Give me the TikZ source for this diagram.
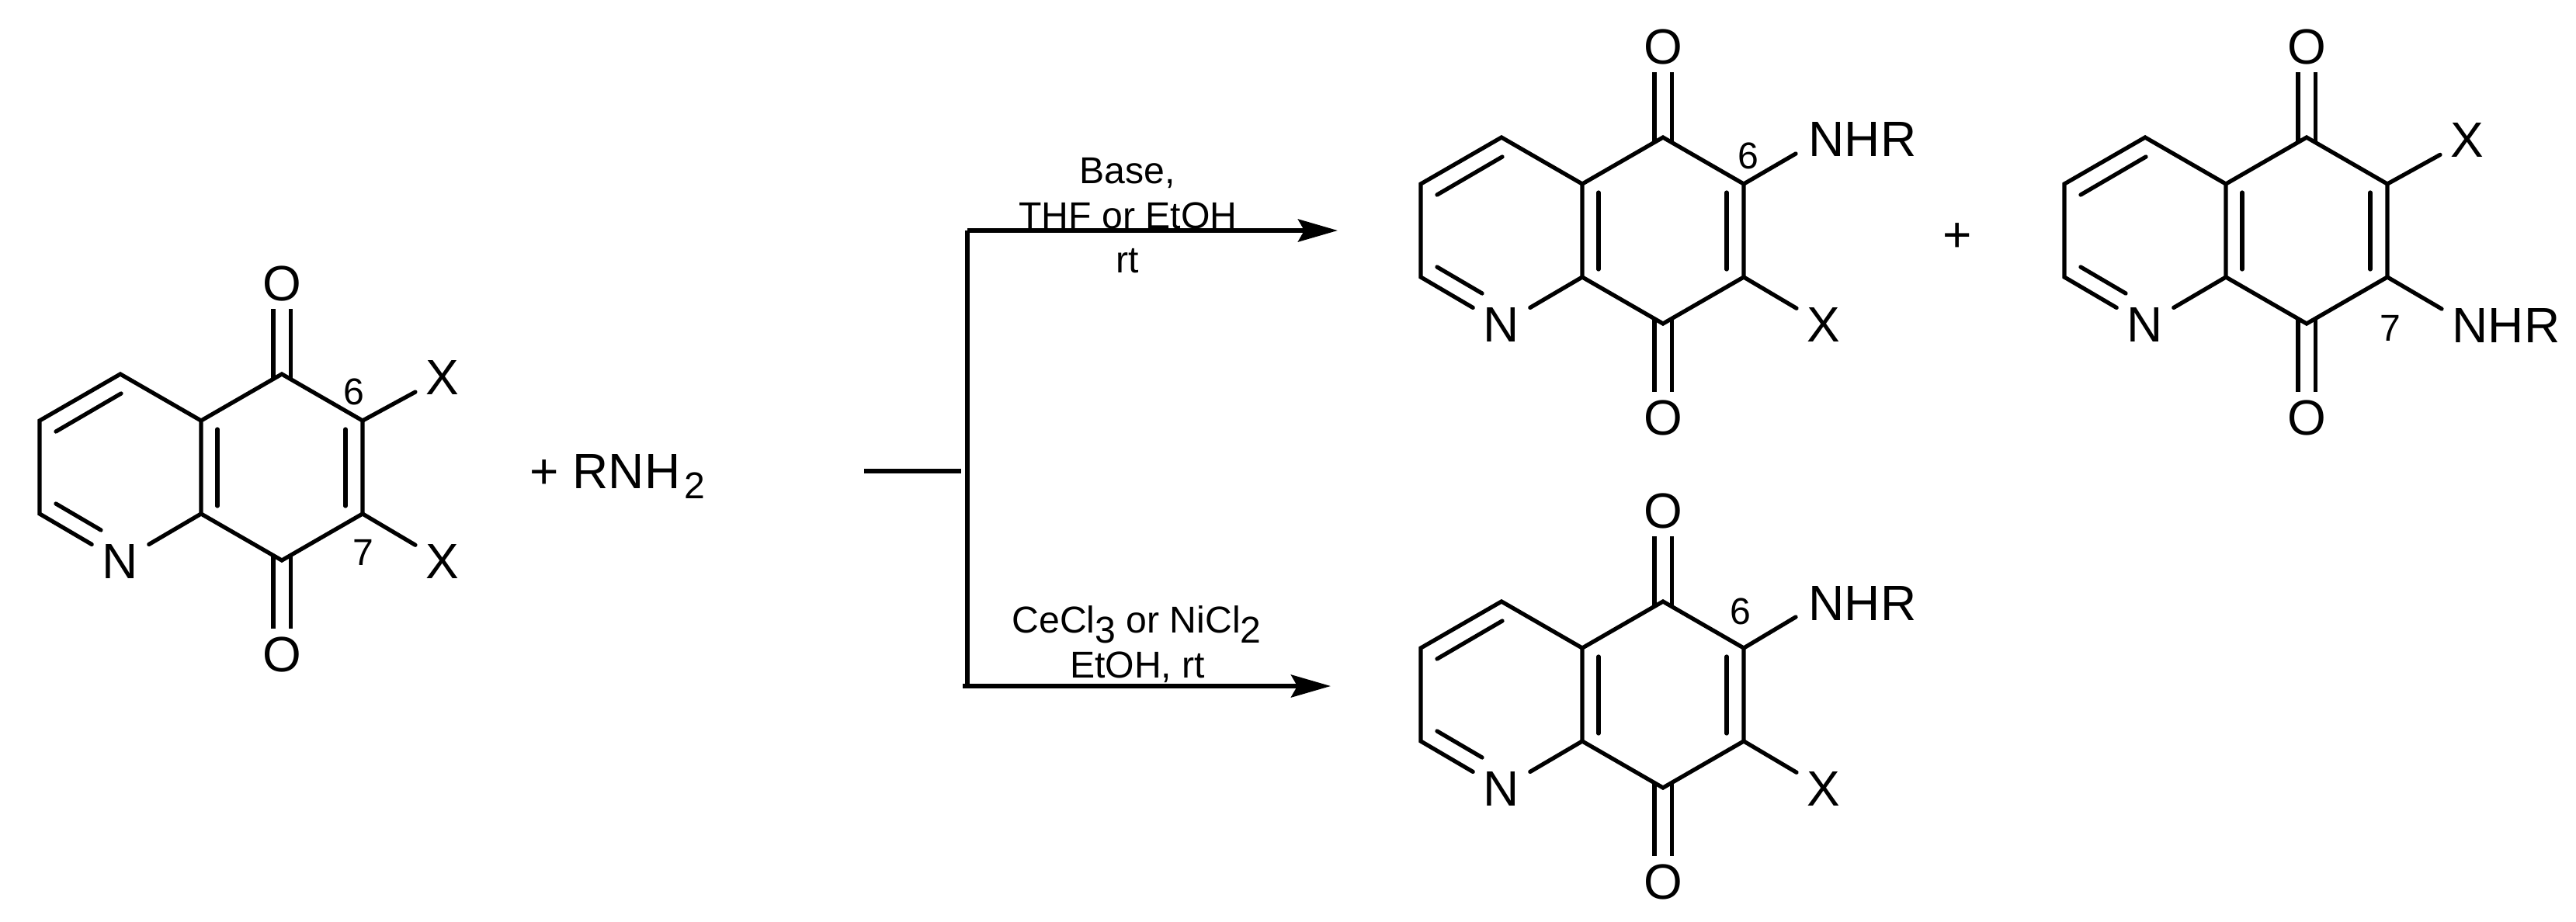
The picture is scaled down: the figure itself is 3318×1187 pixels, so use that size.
\documentclass[tikz,border=0pt]{standalone}
\usepackage{fontspec}
\setmainfont{Liberation Sans}
\usetikzlibrary{arrows.meta}
\newcommand{\bigtext}{\fontsize{18.2}{20}\selectfont}
\newcommand{\smalltext}{\fontsize{13.7}{15}\selectfont}
\newcommand{\lowered}[1]{\raisebox{-3.7pt}{\smalltext #1}}
\tikzset{
  bond/.style={line width=1.5pt, line cap=round},
  carbonyl/.style={line width=1.5pt, double, double distance=1.7mm, shorten <=-0.7mm},
  rxn/.style={line width=1.6pt},
  rxnarrow/.style={line width=1.6pt, -{Stealth[length=5.1mm, width=2.9mm, inset=0.8mm]}},
  atom/.style={font=\bigtext, inner xsep=3.7pt, inner ysep=0pt},
  site/.style={font=\smalltext, inner sep=0pt},
  reagent/.style={font=\smalltext, anchor=base, inner sep=0pt}
}
\newcommand{\quinone}{
  \coordinate (C4a) at (0,0);
  \coordinate (C8a) at (0,120);
  \coordinate (C8) at (104,180);
  \coordinate (C7) at (208,120);
  \coordinate (C6) at (208,0);
  \coordinate (C5) at (104,-60);
  \coordinate (C4) at (-104,-60);
  \coordinate (C3) at (-208,0);
  \coordinate (C2) at (-208,120);
  \node [atom] (N) at (-104,181) {N};
  \node [atom, inner ysep=2.85pt] (O5) at (104,-177) {O};
  \node [atom, inner ysep=2.85pt] (O8) at (104,301) {O};
  \draw [carbonyl] (C5) -- (O5);
  \draw [carbonyl] (C8) -- (O8);
  \draw [bond] (C4a) -- (C5) -- (C6) -- (C7) -- (C8) -- (C8a) -- cycle;
  \draw [bond] (C4a) -- (C4) -- (C3) -- (C2) -- (N) -- (C8a);
  \coordinate (a1) at (21,11);
  \coordinate (a2) at (21,110);
  \coordinate (b1) at (186,11);
  \coordinate (b2) at (186,110);
  \coordinate (c1) at (-187,14);
  \coordinate (c2) at (-103,-35);
  \coordinate (d1) at (-187,107);
  \coordinate (d2) at (-129,141);
  \draw [bond] (a1) -- (a2);
  \draw [bond] (b1) -- (b2);
  \draw [bond] (c1) -- (c2);
  \draw [bond] (d1) -- (d2);
}
\begin{document}
\begin{tikzpicture}[x=0.1mm, y=-0.1mm]
\useasboundingbox (0,0) rectangle (3318,1187);
% starting quinone
\begin{scope}[shift={(259,542)}, name prefix=sm-]
\quinone
\node [atom] (X6) at (311,-56) {X};
\node [atom] (X7) at (311,181) {X};
\draw [bond] (C6) -- (X6);
\draw [bond] (C7) -- (X7);
\node [site] (n6) at (197,-37) {6};
\node [site] (n7) at (209,170) {7};
\end{scope}
\node [font=\bigtext, anchor=base west, inner sep=0pt] (amine) at (682,629) {+ RNH\kern1.5pt\lowered{2}};
% branching arrows
\coordinate (stubA) at (1113,607);
\coordinate (stubB) at (1238,607);
\coordinate (upper) at (1246,297);
\coordinate (lower) at (1246,884);
\coordinate (lowerB) at (1240,884);
\coordinate (upperEnd) at (1723,297);
\coordinate (lowerEnd) at (1714,884);
\node [reagent] (r1) at (1452,236) {Base,};
\node [reagent] (r2) at (1453,294) {THF or EtOH};
\node [reagent] (r3) at (1452,351) {rt};
\node [reagent] (r4) at (1464,815) {CeCl\lowered{3} or NiCl\lowered{2}};
\node [reagent] (r5) at (1465,873) {EtOH, rt};
\draw [rxn] (stubA) -- (stubB);
\draw [rxn] (upper) -- (lower);
\draw [rxnarrow] (upper) -- (upperEnd);
\draw [rxnarrow] (lowerB) -- (lowerEnd);
% 6-amino product, top
\begin{scope}[shift={(2038,237)}, name prefix=pa-]
\quinone
\node [atom, anchor=west] (NHR) at (278,-58) {NHR};
\node [atom] (X7) at (311,181) {X};
\coordinate (end6) at (275,-39);
\draw [bond] (C6) -- (end6);
\draw [bond] (C7) -- (X7);
\node [site] (n6) at (214,-36) {6};
\end{scope}
\node [font=\bigtext, inner sep=0pt] (plus) at (2521,306) {+};
% 7-amino product
\begin{scope}[shift={(2867,237)}, name prefix=pb-]
\quinone
\node [atom] (X6) at (311,-57) {X};
\node [atom, anchor=west] (NHR) at (278,182) {NHR};
\coordinate (end7) at (278,161);
\draw [bond] (C6) -- (X6);
\draw [bond] (C7) -- (end7);
\node [site] (n7) at (212,186) {7};
\end{scope}
% 6-amino product, bottom
\begin{scope}[shift={(2038,835)}, name prefix=pc-]
\quinone
\node [atom, anchor=west] (NHR) at (278,-58) {NHR};
\node [atom] (X7) at (311,181) {X};
\coordinate (end6) at (275,-40);
\draw [bond] (C6) -- (end6);
\draw [bond] (C7) -- (X7);
\node [site] (n6) at (204,-47) {6};
\end{scope}
\end{tikzpicture}
\end{document}
